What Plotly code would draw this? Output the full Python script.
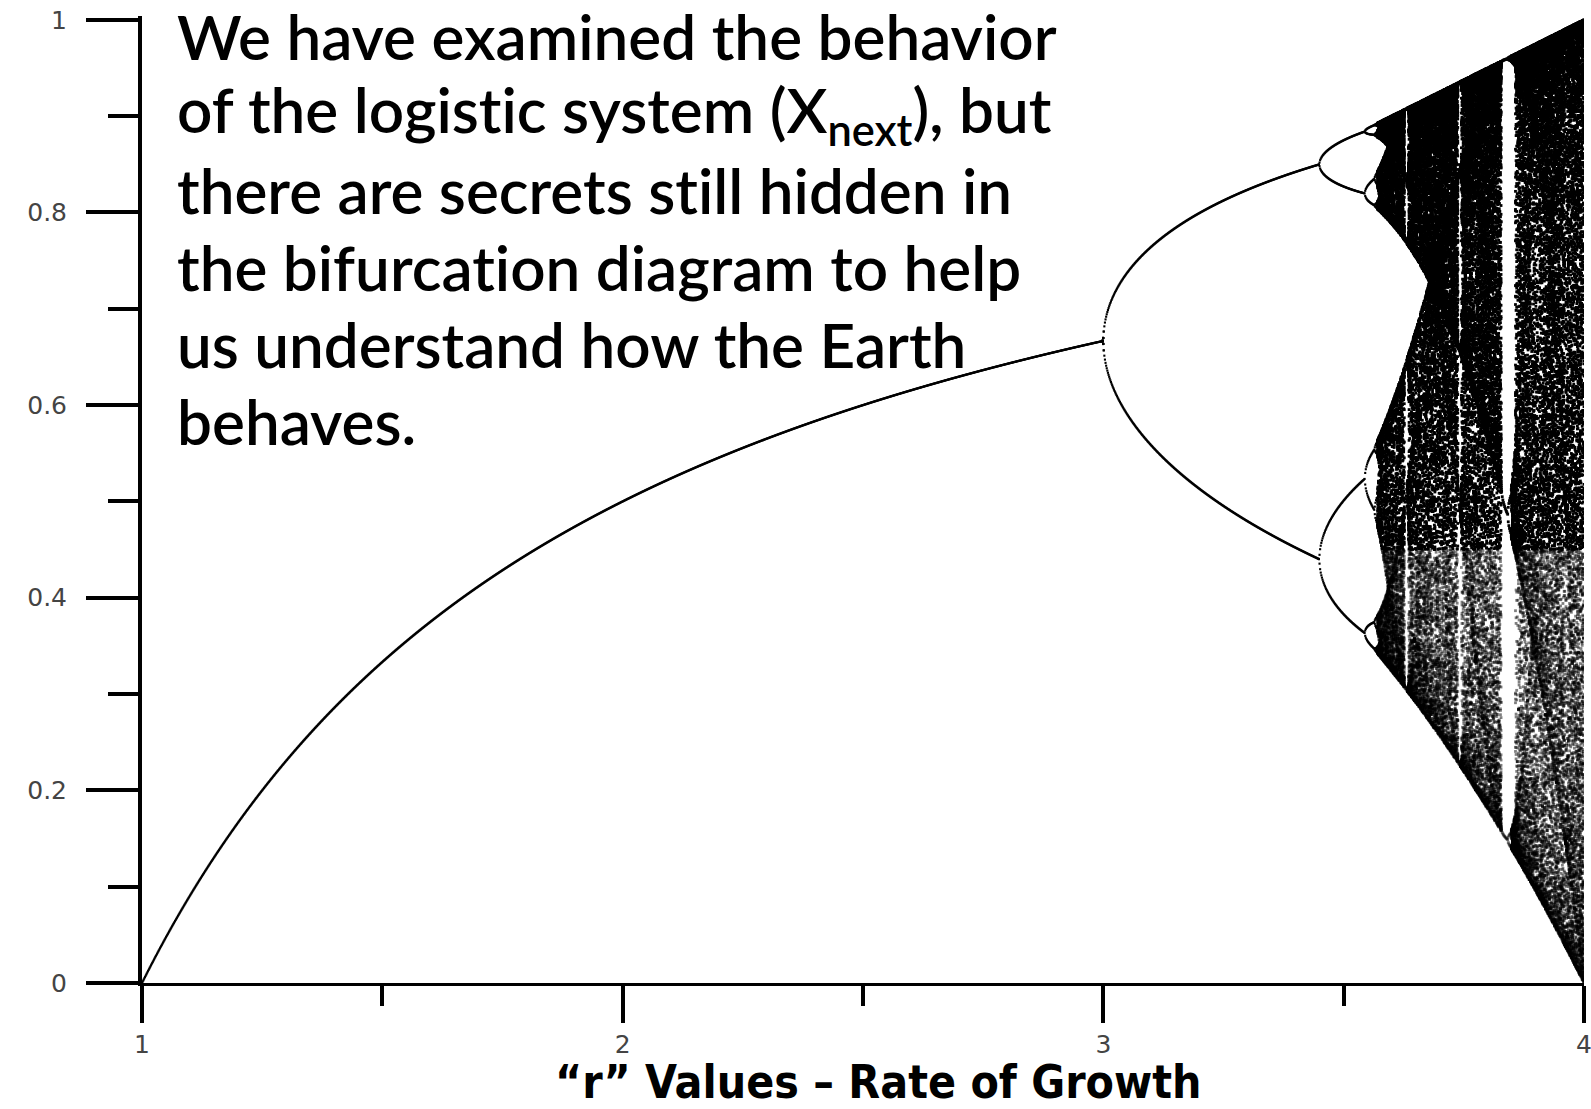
import numpy as np
import plotly.graph_objects as go

# ---- logistic map settings: x_next = r * x * (1 - x) ----
R_START, R_END = 1.0, 4.0
R_COLUMNS = 2400
TRANSIENT_STEPS = 2000
KEPT_STEPS = 200
X_START = 0.3

# chaotic band starts here; its lower half is drawn lighter
CHAOS_ONSET = 3.57
LIGHT_BELOW = 0.45

# ---- axes ----
X_RANGE = [1, 4]
Y_RANGE = [0, 1.004]
X_TICK_VALUES = [1, 2, 3, 4]
X_TICK_TEXT = ["1", "2", "3", "4"]
X_MINOR_VALUES = [1.5, 2.5, 3.5]
Y_TICK_VALUES = [0, 0.2, 0.4, 0.6, 0.8, 1.0]
Y_TICK_TEXT = ["0", "0.2", "0.4", "0.6", "0.8", "1"]
Y_MINOR_VALUES = [0.1, 0.3, 0.5, 0.7, 0.9]

# ---- text (ZWNJ keeps "ti" from turning into a ligature) ----
ZWNJ = "\u200c"
BODY_LINES = [
    "We have examined the behavior",
    f"of the logis{'t' + ZWNJ + 'i'}c system (X<sub>next</sub>), but",
    f"there are secrets s{'t' + ZWNJ + 'i'}ll hidden in",
    f"the bifurca{'t' + ZWNJ + 'i'}on diagram to help",
    "us understand how the Earth",
    "behaves.",
]
AXIS_TITLE = "\u201cr\u201d Values \u2013 Rate of Growth"

# ---- page geometry (pixels) ----
W, H = 1591, 1109
M_L, M_R, M_T, M_B = 142, 7, 16, 126
BODY_LEFT_PX = 175
BODY_FIRST_MID_PX = 36
BODY_LINE_STEP_PX = 77
TITLE_X_PX = 878
TITLE_Y_PX = 1082


def paper_x(px):
    return (px - M_L) / (W - M_L - M_R)


def paper_y(py):
    return (H - M_B - py) / (H - M_T - M_B)


# ---- iterate the map for every r column ----
r = np.linspace(R_START, R_END, R_COLUMNS)
x = np.full_like(r, X_START)
for _ in range(TRANSIENT_STEPS):
    x = r * x * (1.0 - x)
orbit = np.empty((KEPT_STEPS, R_COLUMNS))
for k in range(KEPT_STEPS):
    x = r * x * (1.0 - x)
    orbit[k] = x

cols = np.broadcast_to(np.arange(R_COLUMNS), orbit.shape).ravel()
vals = orbit.ravel()
# drop repeated points of periodic orbits
key = cols.astype(np.int64) * 100000 + np.round(vals * 20000).astype(np.int64)
_, idx = np.unique(key, return_index=True)
pr = r[cols[idx]]
px_ = vals[idx]

periodic = pr <= CHAOS_ONSET
light = (~periodic) & (px_ < LIGHT_BELOW)
dark = (~periodic) & (~light)

fig = go.Figure()
# stable branches and period doublings: thin line of points
fig.add_trace(go.Scatter(
    x=pr[periodic], y=px_[periodic], mode="markers",
    marker=dict(symbol="square", size=2.1, color="black", line=dict(width=0)),
    hoverinfo="skip", showlegend=False,
))
# chaotic band, upper part
fig.add_trace(go.Scatter(
    x=pr[dark], y=px_[dark], mode="markers",
    marker=dict(symbol="square", size=2.8, color="black", line=dict(width=0)),
    hoverinfo="skip", showlegend=False,
))
# chaotic band, lower part
fig.add_trace(go.Scatter(
    x=pr[light], y=px_[light], mode="markers",
    marker=dict(symbol="square", size=2.8, color="black", opacity=0.5, line=dict(width=0)),
    hoverinfo="skip", showlegend=False,
))

tick_font = dict(family="DejaVu Sans", size=25, color="#444")

fig.update_xaxes(
    range=X_RANGE, showgrid=False, zeroline=False, automargin=False,
    showline=True, linecolor="black", linewidth=3,
    ticks="outside", tickvals=X_TICK_VALUES, ticktext=X_TICK_TEXT,
    ticklen=37, tickwidth=4, tickcolor="black",
    tickfont=tick_font, ticklabelstandoff=0, ticklabeloverflow="allow",
    minor=dict(tickvals=X_MINOR_VALUES, ticks="outside", ticklen=20,
               tickwidth=4, tickcolor="black", showgrid=False),
)
fig.update_yaxes(
    range=Y_RANGE, showgrid=False, zeroline=False, automargin=False,
    showline=True, linecolor="black", linewidth=4,
    ticks="outside", tickvals=Y_TICK_VALUES, ticktext=Y_TICK_TEXT,
    ticklen=52, tickwidth=4, tickcolor="black",
    tickfont=tick_font, ticklabelstandoff=14, ticklabeloverflow="allow",
    minor=dict(tickvals=Y_MINOR_VALUES, ticks="outside", ticklen=30,
               tickwidth=4, tickcolor="black", showgrid=False),
)

annotations = []
for i, line in enumerate(BODY_LINES):
    annotations.append(dict(
        text=line, xref="paper", yref="paper",
        x=paper_x(BODY_LEFT_PX), y=paper_y(BODY_FIRST_MID_PX + i * BODY_LINE_STEP_PX),
        xanchor="left", yanchor="middle", showarrow=False, align="left",
        font=dict(family="Lato", size=62, color="black", weight=600),
    ))
annotations.append(dict(
    text=AXIS_TITLE, xref="paper", yref="paper",
    x=paper_x(TITLE_X_PX), y=paper_y(TITLE_Y_PX),
    xanchor="center", yanchor="middle", showarrow=False,
    font=dict(family="'DejaVu Sans Condensed', 'Roboto Condensed', 'Liberation Sans Narrow', Roboto, sans-serif",
              size=46, color="black", weight="bold"),
))

fig.update_layout(
    width=W, height=H, autosize=False,
    margin=dict(l=M_L, r=M_R, t=M_T, b=M_B, pad=0),
    paper_bgcolor="white", plot_bgcolor="white",
    annotations=annotations, showlegend=False,
)

fig.write_html(
    "out.html",
    config={"displayModeBar": False},
    post_script="document.body.style.margin='0';",
)
